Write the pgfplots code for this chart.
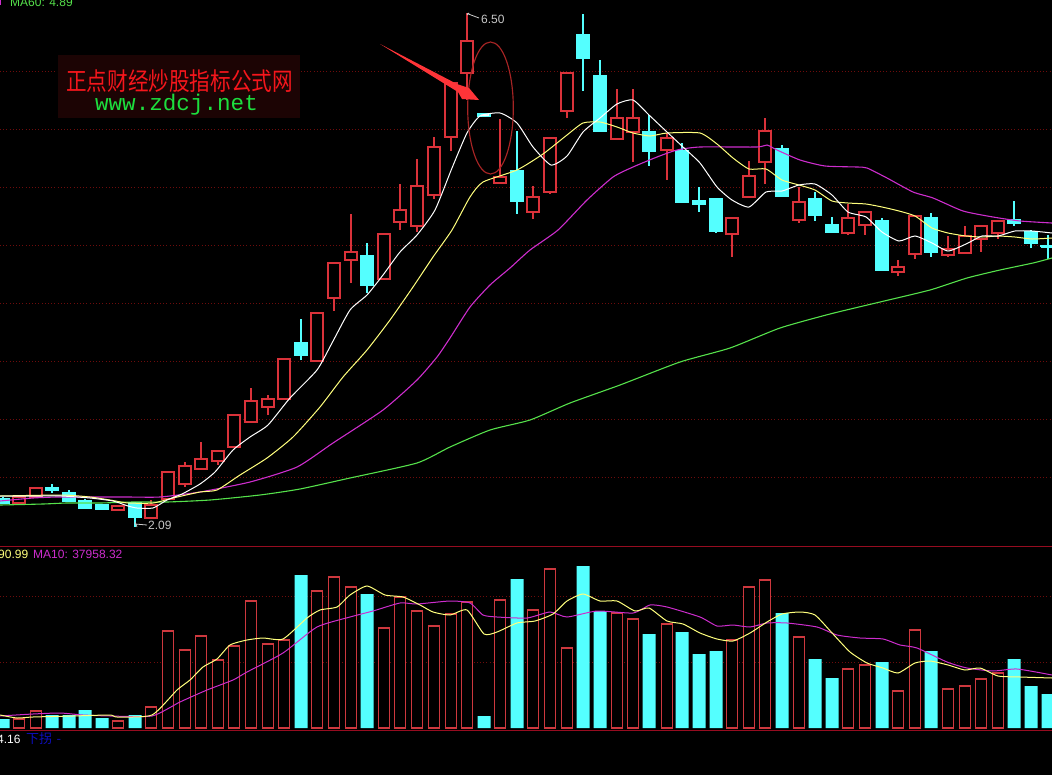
\documentclass[border=0pt]{standalone}
\usepackage{fontspec}
\usepackage{pgfplots}
\pgfplotsset{compat=1.18}
\setmainfont{Liberation Sans}
\newfontfamily\cjk{Noto Sans CJK SC}
\newfontfamily\monof{Liberation Mono}

\definecolor{cred}{RGB}{218,50,58}
\definecolor{vred}{RGB}{205,56,62}
\definecolor{ccyan}{RGB}{84,255,255}
\definecolor{griddim}{RGB}{110,12,12}
\definecolor{sepred}{RGB}{150,12,32}
\definecolor{ma10y}{RGB}{255,255,125}
\definecolor{ma20m}{RGB}{205,45,205}
\definecolor{ma60g}{RGB}{85,225,75}
\definecolor{markred}{RGB}{255,52,56}
\definecolor{titlered}{RGB}{245,22,28}
\definecolor{ringred}{RGB}{165,36,36}
\definecolor{wmbg}{RGB}{28,4,4}
\definecolor{wmgreen}{RGB}{28,222,62}
\definecolor{lowblue}{RGB}{14,14,190}

\pgfplotsset{
  panel/.style={
    scale only axis, width=1052pt,
    xmin=0, xmax=1052,
    axis background/.style={fill=black},
    axis line style={draw=none},
    xtick=\empty, tick style={draw=none},
    yticklabels={}, ymajorgrids,
    grid style={griddim, dash pattern=on 1pt off 2.2pt, line width=0.8pt},
  },
  candle red/.style={draw=cred, line width=1.15pt, fill=black, mark=none, forget plot},
  candle cyan/.style={draw=ccyan, line width=1.05pt, fill=ccyan, mark=none, forget plot},
  wick red/.style={draw=cred, line width=1.15pt, mark=none, forget plot},
  wick cyan/.style={draw=ccyan, line width=1.05pt, mark=none, forget plot},
  maline/.style={line width=1pt, mark=none, forget plot, smooth, tension=0.35},
}

% x high top bottom low (pixel rows of the price panel)
\newcommand{\redc}[5]{%
  \pgfmathsetmacro\xl{#1-6}\pgfmathsetmacro\xr{#1+6}%
  \addplot[wick red] coordinates {(#1,#2)(#1,#3)};
  \addplot[wick red] coordinates {(#1,#4)(#1,#5)};
  \addplot[candle red] coordinates {(\xl,#3)(\xr,#3)(\xr,#4)(\xl,#4)} --cycle;
}
\newcommand{\cyanc}[5]{%
  \pgfmathsetmacro\xl{#1-6}\pgfmathsetmacro\xr{#1+6}%
  \addplot[wick cyan] coordinates {(#1,#2)(#1,#5)};
  \addplot[candle cyan] coordinates {(\xl,#3)(\xr,#3)(\xr,#4)(\xl,#4)} --cycle;
}

\begin{document}
\begin{tikzpicture}[x=1pt,y=1pt]
\useasboundingbox (0,0) rectangle (1052,-775);

\begin{axis}[panel,
  at={(0pt,0pt)}, anchor=north west,
  height=540pt, ymin=0, ymax=540, y dir=reverse,
  ytick={71,129,187,245,303,361,419,477},
]
% watermark block
\fill[wmbg] (axis cs:58,55) rectangle (axis cs:300,118);

\cyanc{3}{497}{499}{503}{503}
\redc{19}{497}{497}{503}{503}
\redc{36}{487}{488}{497}{497}
\cyanc{52}{484}{488}{490}{493}
\cyanc{69}{490}{493}{501}{501}
\cyanc{85}{499}{501}{508}{509}
\cyanc{102}{504}{505}{509}{509}
\redc{118}{505}{506}{510}{511}
\cyanc{135}{503}{503}{517}{527}
\redc{151}{500}{505}{518}{519}
\redc{168}{472}{472}{499}{499}
\redc{185}{462}{466}{484}{487}
\redc{201}{442}{459}{469}{469}
\redc{218}{451}{451}{461}{465}
\redc{234}{415}{415}{447}{447}
\redc{251}{388}{401}{422}{422}
\redc{268}{395}{399}{407}{415}
\redc{284}{359}{359}{399}{399}
\cyanc{301}{319}{343}{355}{360}
\redc{317}{313}{313}{361}{361}
\redc{334}{263}{263}{298}{311}
\redc{351}{214}{252}{260}{283}
\cyanc{367}{243}{256}{285}{293}
\redc{384}{234}{234}{279}{279}
\redc{400}{184}{210}{222}{230}
\redc{417}{159}{186}{226}{232}
\redc{434}{137}{147}{195}{199}
\redc{451}{82}{83}{137}{151}
\redc{467}{13}{41}{73}{100}
\cyanc{484}{114}{114}{116}{116}
\redc{500}{119}{177}{183}{183}
\cyanc{517}{131}{171}{201}{214}
\redc{533}{186}{197}{212}{219}
\redc{550}{138}{138}{192}{194}
\redc{567}{73}{73}{111}{118}
\cyanc{583}{14}{35}{58}{91}
\cyanc{600}{60}{76}{131}{131}
\redc{617}{89}{118}{139}{139}
\redc{633}{89}{118}{132}{162}
\cyanc{649}{115}{132}{151}{166}
\redc{667}{133}{138}{150}{180}
\cyanc{682}{143}{151}{202}{202}
\cyanc{699}{187}{201}{204}{212}
\cyanc{716}{198}{199}{231}{233}
\redc{732}{217}{218}{234}{257}
\redc{749}{161}{176}{197}{197}
\redc{765}{118}{131}{162}{184}
\cyanc{782}{145}{149}{196}{196}
\redc{799}{187}{202}{220}{223}
\cyanc{815}{192}{199}{215}{221}
\cyanc{832}{217}{225}{232}{233}
\redc{848}{204}{218}{233}{235}
\redc{865}{211}{212}{225}{235}
\cyanc{882}{218}{221}{270}{270}
\redc{898}{260}{267}{272}{276}
\redc{915}{216}{216}{254}{259}
\cyanc{931}{213}{218}{252}{257}
\redc{948}{236}{249}{255}{257}
\redc{965}{226}{236}{253}{253}
\redc{981}{225}{226}{239}{252}
\redc{998}{220}{221}{233}{239}
\cyanc{1014}{201}{220}{223}{226}
\cyanc{1031}{230}{232}{243}{248}
\cyanc{1048}{235}{246}{247}{259}
\addplot[wick cyan] coordinates {(1040,246)(1052,246)};

% MA60
\addplot[maline, ma60g, line width=1.1pt] coordinates {(0,505)(43,504)(67,503)(100,503)(133,502)(167,502)(210,500)(260,495)(300,489)(350,478)(417,463)(450,447)(490,430)(530,420)(570,403)(620,385)(680,362)(730,348)(780,328)(830,314)(880,302)(930,290)(967,278)(1000,270)(1033,263)(1052,258)};
% MA20
\addplot[maline, ma20m, line width=1.1pt] coordinates {(0,501)(33,498)(57,497)(90,497)(127,497)(160,497)(200,492)(250,482)(297,467)(333,443)(383,410)(417,380)(437,357)(450,338)(470,307)(490,285)(510,268)(530,250)(558,230)(587,200)(613,177)(633,167)(657,157)(677,150)(700,147)(757,147)(767,145)(777,150)(800,160)(825,166)(857,167)(867,168)(887,178)(913,192)(933,198)(963,211)(993,217)(1020,221)(1052,223)};
% MA10
\addplot[maline, ma10y] coordinates {(0,496)(62,495)(90,497)(110,500)(128,503)(153,503)(173,498)(200,492)(217,490)(240,475)(267,458)(293,437)(320,407)(343,377)(367,350)(390,320)(413,287)(433,257)(452,230)(470,197)(483,182)(517,170)(543,154)(567,135)(583,123)(600,122)(617,127)(633,133)(650,136)(667,133)(700,133)(717,144)(733,158)(749,169)(766,169)(782,180)(799,185)(815,190)(832,201)(848,203)(866,204)(882,207)(899,211)(915,216)(932,228)(948,233)(966,236)(982,237)(998,236)(1015,237)(1032,239)(1052,238)};
% MA5
\addplot[maline, white] coordinates {(0,496)(40,496)(62,496)(90,498)(113,501)(128,506)(137,508)(153,508)(167,500)(182,494)(200,484)(215,472)(233,450)(250,437)(268,425)(290,398)(317,370)(332,343)(350,310)(367,295)(383,275)(400,252)(417,235)(435,210)(452,168)(467,133)(480,116)(500,113)(517,123)(533,147)(551,165)(567,156)(583,132)(600,118)(617,104)(633,100)(649,115)(667,132)(683,147)(700,163)(717,187)(732,200)(749,207)(766,192)(782,191)(799,185)(815,184)(832,195)(848,212)(866,217)(882,232)(899,241)(915,236)(932,243)(948,251)(966,244)(982,236)(998,236)(1015,231)(1032,231)(1052,233)};
\addplot[white, line width=1.6pt, forget plot] coordinates {(481,115.5)(489,115)};

% annotations
\draw[ringred, line width=1.15pt] (axis cs:490.5,108) ellipse [x radius=22.8pt, y radius=66pt];
\fill[markred] (axis cs:380,44) -- (axis cs:457,84) -- (axis cs:469,88) -- (axis cs:479,100)
  -- (axis cs:462,99) -- (axis cs:458,92) -- cycle;

\draw[white!80!black, line width=0.8pt] (axis cs:469,13) -- (axis cs:467,15) (axis cs:467,13.5) -- (axis cs:479,18);
\node[anchor=base west, inner sep=0pt, text=white!78!black, font=\fontsize{12}{12}\selectfont] at (axis cs:481,23.5) {6.50};
\draw[white!80!black, line width=0.8pt] (axis cs:135,522) -- (axis cs:137,527) (axis cs:135,524) -- (axis cs:147,525);
\node[anchor=base west, inner sep=0pt, text=white!78!black, font=\fontsize{12}{12}\selectfont] at (axis cs:148,529.5) {2.09};

\node[anchor=base west, inner sep=0pt, text=ma60g, font=\fontsize{12}{12}\selectfont] at (axis cs:10,6) {MA60: 4.89};
\addplot[draw=ma20m, line width=1.2pt, forget plot] coordinates {(0.5,0)(0.5,5)};

\node[anchor=base, inner sep=0pt, text=titlered, yscale=1.2, font=\cjk\fontsize{20.6}{20.6}\selectfont] at (axis cs:179.5,90) {正点财经炒股指标公式网};
\node[anchor=base, inner sep=0pt, text=wmgreen, font=\monof\fontsize{22.6}{22.6}\selectfont] at (axis cs:176.5,110) {www.zdcj.net};
\end{axis}

\begin{axis}[panel,
  at={(0pt,-540pt)}, anchor=north west,
  height=235pt, ymin=-47, ymax=188,
  ytick={65.5,132},
]
% volume, height above the panel's floor
\addplot[ybar, bar width=11.6pt, bar shift=0pt, draw=vred, fill=black, line width=1.15pt, forget plot] coordinates {
(19,9)(36,17)(118,7)(151,21)(168,97)(185,78)(201,92)(218,68)(234,82)(251,127)(268,84)(284,88)
(317,137)(334,151)(351,141)(384,100)(400,131)(417,117)(434,102)(451,114)(467,126)(500,128)
(533,118)(550,159)(567,80)(617,115)(633,109)(667,104)(732,88)(749,141)(765,148)(799,91)
(848,59)(865,63)(898,37)(915,98)(948,39)(965,42)(981,49)(998,55)};
\addplot[ybar, bar width=13pt, bar shift=0pt, draw=none, fill=ccyan, forget plot] coordinates {
(3,9)(52,13)(69,13)(85,18)(102,10)(135,13)(301,153)(367,134)(484,12)(517,149)(583,162)(600,117)
(649,94)(682,96)(699,74)(716,77)(782,115)(815,69)(832,50)(882,66)(931,77)(1014,69)(1031,42)(1048,34)};

% volume MA10 then MA5
\addplot[maline, ma20m] coordinates {(0,12)(33,14)(60,15)(83,13)(110,12)(152,12)(180,26)(207,38)(233,48)(247,56)(283,75)(317,101)(350,111)(373,117)(400,125)(417,124)(450,127)(470,125)(483,113)(497,111)(527,110)(550,116)(567,111)(597,117)(633,115)(650,123)(667,121)(700,111)(717,102)(733,103)(750,101)(767,105)(787,105)(817,101)(837,93)(860,90)(883,89)(900,83)(917,80)(947,66)(967,60)(993,57)(1017,59)(1052,53)};
\addplot[maline, ma10y] coordinates {(0,13)(17,10)(33,11)(73,12)(110,13)(117,11)(152,13)(177,38)(190,48)(203,61)(217,69)(230,83)(247,88)(263,90)(283,89)(307,110)(320,118)(337,121)(350,133)(367,142)(385,133)(403,131)(420,123)(433,116)(450,113)(467,118)(484,94)(497,96)(517,105)(535,107)(553,114)(567,127)(583,134)(600,127)(617,127)(635,117)(649,120)(667,107)(683,104)(700,95)(717,89)(733,87)(750,95)(767,106)(782,114)(800,116)(815,113)(833,94)(850,76)(867,65)(883,60)(898,55)(915,65)(930,67)(948,63)(965,58)(980,60)(998,52)(1020,51)(1052,50)};

% panel rules
\addplot[draw=sepred, line width=1.2pt, forget plot] coordinates {(0,181.5)(1052,181.5)};
\addplot[draw=sepred, line width=1.2pt, forget plot] coordinates {(0,-2.5)(1052,-2.5)};

\node[anchor=base west, inner sep=0pt, text=ma10y, font=\fontsize{12}{12}\selectfont] at (axis cs:-2,169.5) {90.99};
\node[anchor=base west, inner sep=0pt, text=ma20m, font=\fontsize{12}{12}\selectfont] at (axis cs:33,169.5) {MA10: 37958.32};
\node[anchor=base west, inner sep=0pt, text=white, font=\fontsize{12}{12}\selectfont] at (axis cs:-3,-15) {4.16};
\node[anchor=base west, inner sep=0pt, text=lowblue, font=\cjk\fontsize{13}{13}\selectfont] at (axis cs:26,-15) {下拐\,\,-};
\end{axis}
\end{tikzpicture}
\end{document}
